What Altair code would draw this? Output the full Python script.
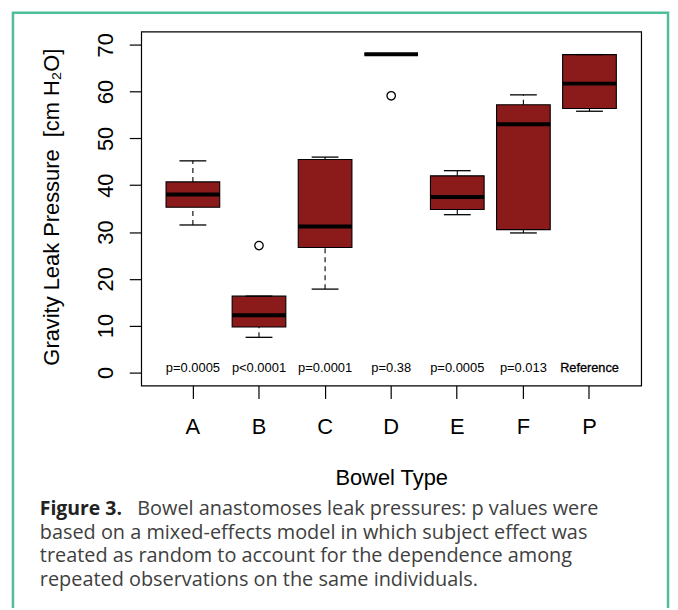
import altair as alt
import pandas as pd

# ---- data ----
groups = ["A", "B", "C", "D", "E", "F", "P"]
whisker_lo = [31.5, 7.5, 17.8, 68.0, 33.7, 29.8, 55.8]
q1 = [35.3, 9.7, 26.7, 68.0, 34.8, 30.5, 56.4]
median = [38.0, 12.2, 31.2, 68.0, 37.5, 53.0, 61.7]
q3 = [40.7, 16.3, 45.5, 68.0, 42.0, 57.2, 67.9]
whisker_hi = [45.2, 16.3, 46.0, 68.0, 43.1, 59.3, 67.9]
p_labels = ["p=0.0005", "p<0.0001", "p=0.0001", "p=0.38", "p=0.0005", "p=0.013", "Reference"]
outlier_groups = ["B", "D"]
outlier_values = [27.1, 59.1]
y_ticks = [0, 10, 20, 30, 40, 50, 60, 70]

caption_bold = "Figure 3."
caption_lines = [
    "Bowel anastomoses leak pressures: p values were",
    "based on a mixed-effects model in which subject effect was",
    "treated as random to account for the dependence among",
    "repeated observations on the same individuals.",
]

df = pd.DataFrame({
    "group": groups, "lo": whisker_lo, "q1": q1, "med": median,
    "q3": q3, "hi": whisker_hi, "plabel": p_labels,
})
out_df = pd.DataFrame({"group": outlier_groups, "value": outlier_values})

BOX = "#8B1A1A"
FONT = "Liberation Sans"
W, H = 503, 356

xscale = alt.Scale(domain=groups, paddingInner=0.188, paddingOuter=0.376)
yscale = alt.Scale(domain=[-2.8, 72.8], nice=False, zero=False)

x_enc = alt.X(
    "group:N", sort=groups, scale=xscale,
    axis=alt.Axis(
        title="Bowel Type", labelAngle=0, labelFont=FONT, labelFontSize=22,
        labelColor="black", labelBaseline="alphabetic", labelPadding=35,
        tickColor="black", tickSize=13, tickWidth=1.2, domain=False,
        titleFont=FONT, titleFontSize=22, titleFontWeight="normal",
        titleColor="black", titleX=W / 2, titleY=100, titleAlign="center",
        titleBaseline="alphabetic",
    ),
)

y_axis = alt.Axis(
    values=y_ticks, title="Gravity Leak Pressure\u00a0 [cm H\u2082O]",
    labelAngle=270, labelAlign="center", labelBaseline="alphabetic",
    labelFont=FONT, labelFontSize=22, labelColor="black", labelPadding=17,
    labelOverlap=False, labelFlush=False,
    tickColor="black", tickSize=12, tickWidth=1.2, grid=False, domain=False,
    titleFont=FONT, titleFontSize=22, titleFontWeight="normal",
    titleColor="black", titleAngle=270, titleX=-83, titleY=176,
    titleAlign="center", titleBaseline="alphabetic",
)

base = alt.Chart(df)

box = base.mark_bar(color=BOX, stroke="black", strokeWidth=1.1).encode(
    x=x_enc,
    y=alt.Y("q1:Q", scale=yscale, axis=y_axis),
    y2="q3:Q",
)

wlo = base.mark_rule(color="black", strokeWidth=1.1, strokeDash=[5, 4]).encode(
    x=alt.X("group:N", sort=groups), y="lo:Q", y2="q1:Q")
whi = base.mark_rule(color="black", strokeWidth=1.1, strokeDash=[5, 4]).encode(
    x=alt.X("group:N", sort=groups), y="q3:Q", y2="hi:Q")

cap_lo = base.mark_tick(color="black", size=27, thickness=1.3, opacity=1).encode(
    x=alt.X("group:N", sort=groups), y="lo:Q")
cap_hi = base.mark_tick(color="black", size=27, thickness=1.3, opacity=1).encode(
    x=alt.X("group:N", sort=groups), y="hi:Q")

med = base.mark_tick(color="black", size=54, thickness=4, opacity=1).encode(
    x=alt.X("group:N", sort=groups), y="med:Q")

outl = alt.Chart(out_df).mark_point(
    shape="circle", filled=False, color="black", size=72, strokeWidth=1.3, opacity=1
).encode(x=alt.X("group:N", sort=groups), y="value:Q")

ptext = base.transform_filter(alt.datum.group != "P").mark_text(
    font=FONT, fontSize=13, baseline="alphabetic", align="center", color="black"
).encode(
    x=alt.X("group:N", sort=groups),
    y=alt.datum(0),
    text="plabel:N",
)
ptext_ref = base.transform_filter(alt.datum.group == "P").mark_text(
    font=FONT, fontSize=12.8, baseline="alphabetic",
    align="center", color="black", stroke="black", strokeWidth=0.3
).encode(
    x=alt.X("group:N", sort=groups),
    y=alt.datum(0),
    text="plabel:N",
)

one = alt.Data(values=[{"k": 1}])

border = alt.Chart(one).mark_rect(
    fillOpacity=0, stroke="#4DBE97", strokeWidth=2.5
).encode(
    x=alt.value(-129), x2=alt.value(530), y=alt.value(-19), y2=alt.value(600)
)

cap_layers = [
    alt.Chart(one).mark_text(
        font="Open Sans", fontSize=19.5, fontWeight="bold", align="left",
        baseline="alphabetic", color="#222222"
    ).encode(x=alt.value(-102), y=alt.value(486), text=alt.value(caption_bold))
]
cap_pos = [(-4, 486), (-102, 510), (-102, 534), (-102, 558)]
for (cx, cy), line in zip(cap_pos, caption_lines):
    cap_layers.append(
        alt.Chart(one).mark_text(
            font="Open Sans", fontSize=20, align="left",
            baseline="alphabetic", color="#404040"
        ).encode(x=alt.value(cx), y=alt.value(cy), text=alt.value(line))
    )

chart = alt.layer(
    box, wlo, whi, cap_lo, cap_hi, med, outl, ptext, ptext_ref, border, *cap_layers
).properties(
    width=W, height=H,
    autosize=alt.AutoSizeParams(type="none"),
    padding={"left": 134, "top": 22, "right": 29, "bottom": 222},
    background="white",
).configure_view(stroke="black", strokeWidth=1.2)

chart.save("out.html", embed_options={"renderer": "svg", "actions": False})
